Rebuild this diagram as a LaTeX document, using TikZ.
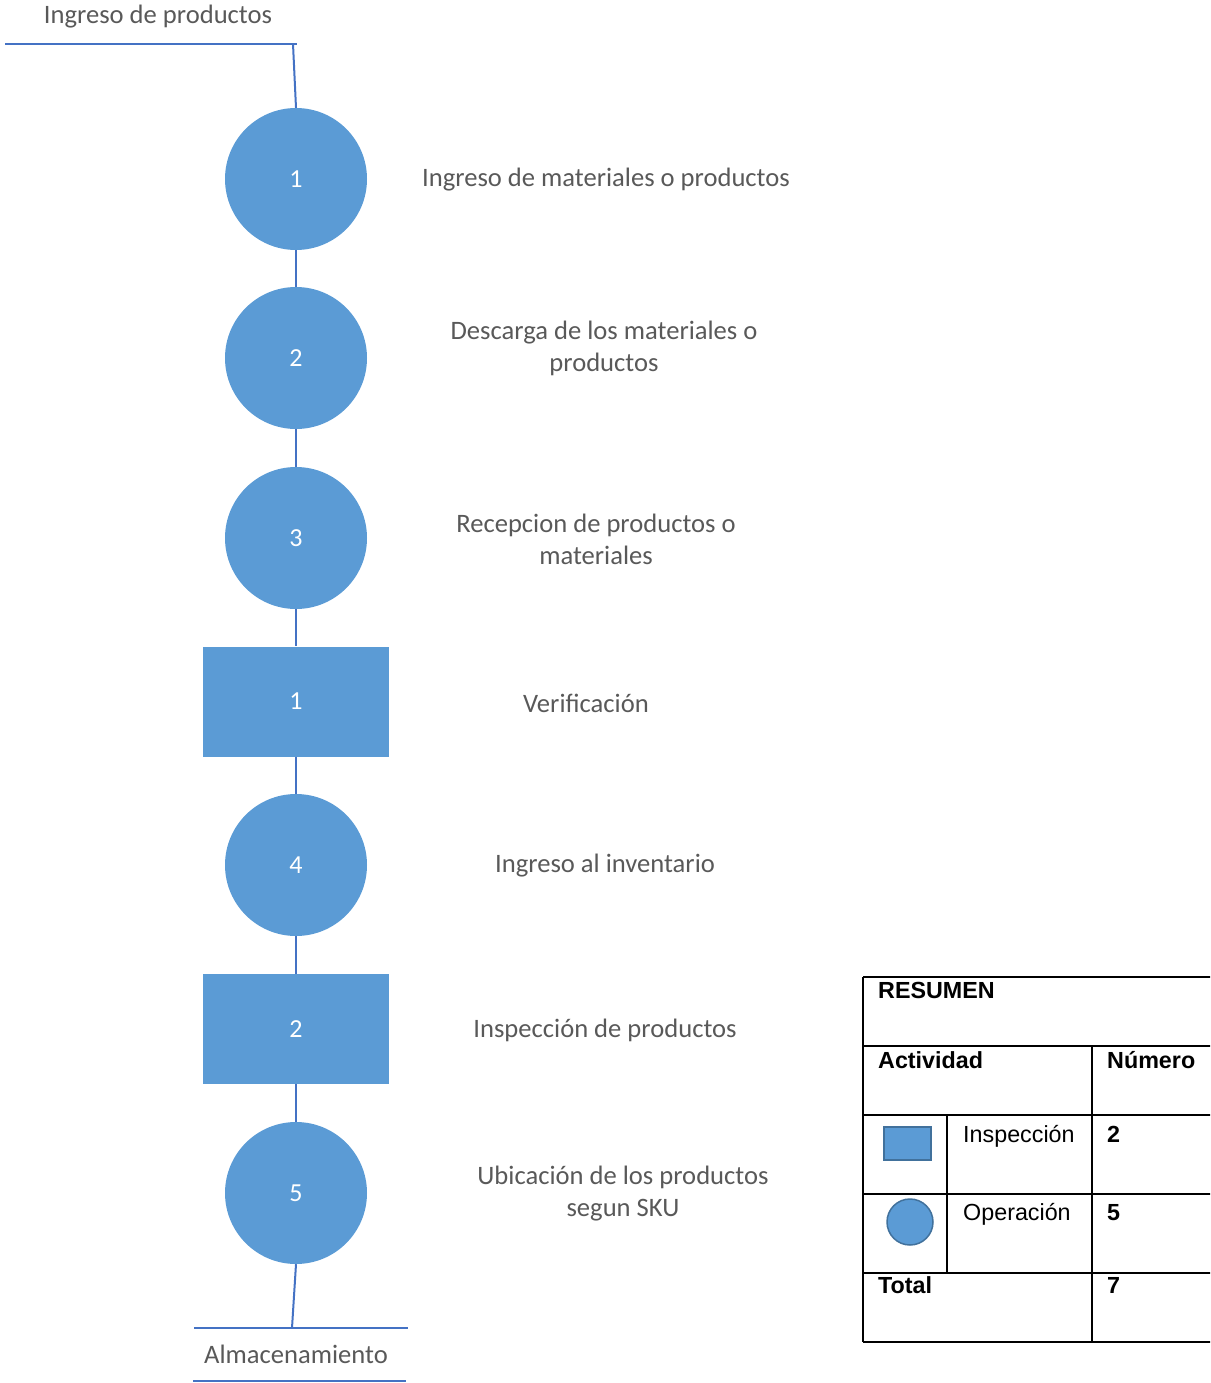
\documentclass[tikz,border=0pt]{standalone}
\usepackage{fontspec}
\setmainfont{Carlito}
\newfontfamily\arialf{Liberation Sans}
\definecolor{lineblue}{HTML}{4472C4}
\definecolor{fillblue}{HTML}{5B9BD5}
\definecolor{edgeblue}{HTML}{41719C}
\definecolor{txtgray}{HTML}{595959}
\begin{document}
\begin{tikzpicture}[x=1pt,y=-1pt,
  op/.style={circle,fill=fillblue,minimum size=142pt,inner sep=0pt,text=white,font=\fontsize{26}{30}\selectfont},
  insp/.style={rectangle,fill=fillblue,minimum width=186pt,minimum height=110pt,inner sep=0pt,text=white,font=\fontsize{26}{30}\selectfont},
  lbl/.style={text=txtgray,align=center,font=\fontsize{26.6}{32}\selectfont},
  conn/.style={draw=lineblue,line width=2pt},
  tline/.style={draw=black,line width=2pt},
  ttxt/.style={anchor=base west,inner sep=0pt,font=\arialf\fontsize{23.3}{27}\selectfont},
  ttxtb/.style={ttxt,font=\arialf\bfseries\fontsize{23.3}{27}\selectfont}]
\useasboundingbox (0,0) rectangle (1210,1383);
\begin{scope}
\clip (0,0) rectangle (1210,1383);
% start / end lines
\coordinate (topL) at (5,44);
\coordinate (topR) at (297,44);
\coordinate (topJ) at (293,44);
\coordinate (botJ) at (292,1328);
\coordinate (botL) at (194,1328);
\coordinate (botR) at (408,1328);
\coordinate (bot2L) at (193,1381);
\coordinate (bot2R) at (406,1381);
\node[lbl,anchor=center] (tstart) at (158,17) {Ingreso de productos};
\draw[conn] (topL) -- (topR);
% nodes
\node[op] (o1) at (296,179) {1};
\node[op] (o2) at (296,358) {2};
\node[op] (o3) at (296,538) {3};
\node[insp] (i1) at (296,701.5) {1};
\node[op] (o4) at (296,865) {4};
\node[insp] (i2) at (296,1029) {2};
\node[op] (o5) at (296,1193) {5};
\draw[conn] (topJ) -- (o1.north);
\draw[conn] (o1) -- (o2);
\draw[conn] (o2) -- (o3);
\draw[conn] (o3) -- (i1);
\draw[conn] (i1) -- (o4);
\draw[conn] (o4) -- (i2);
\draw[conn] (i2) -- (o5);
\draw[conn] (o5.south) -- (botJ);
\draw[conn] (botL) -- (botR);
\draw[conn] (bot2L) -- (bot2R);
\node[lbl] (tend) at (296,1354) {Almacenamiento};
% labels
\node[lbl] (l1) at (606,180) {Ingreso de materiales o productos};
\node[lbl] (l2) at (604,348) {Descarga de los materiales o\\productos};
\node[lbl] (l3) at (596,539) {Recepcion de productos o\\materiales};
\node[lbl] (l4) at (586,703) {Verificación};
\node[lbl] (l5) at (605,866) {Ingreso al inventario};
\node[lbl] (l6) at (605,1030) {Inspección de productos};
\node[lbl] (l7) at (623,1194) {Ubicación de los productos\\segun SKU};
% table
\draw[tline] (863,977) -- (1230,977);
\draw[tline] (863,1046) -- (1230,1046);
\draw[tline] (863,1115) -- (1230,1115);
\draw[tline] (863,1194) -- (1230,1194);
\draw[tline] (863,1273) -- (1230,1273);
\draw[tline] (863,1342) -- (1230,1342);
\draw[tline] (863,977) -- (863,1342);
\draw[tline] (1092,1046) -- (1092,1342);
\draw[tline] (947,1115) -- (947,1273);
\node[ttxtb] (tr) at (878,998) {RESUMEN};
\node[ttxtb] (ta) at (878,1068) {Actividad};
\node[ttxtb] (tn) at (1107,1068) {Número};
\node[ttxt] (tins) at (963,1142) {Inspección};
\node[ttxtb] (t2) at (1107,1142) {2};
\node[ttxt] (tope) at (963,1220) {Operación};
\node[ttxtb] (t5) at (1107,1220) {5};
\node[ttxtb] (tt) at (878,1293) {Total};
\node[ttxtb] (t7) at (1107,1293) {7};
\node[draw=edgeblue,fill=fillblue,line width=1.5pt,minimum width=47pt,minimum height=33pt,inner sep=0pt] (lr) at (907.5,1143.5) {};
\node[draw=edgeblue,fill=fillblue,line width=1.5pt,circle,minimum size=46pt,inner sep=0pt] (lc) at (910,1222) {};
\end{scope}
\end{tikzpicture}
\end{document}
